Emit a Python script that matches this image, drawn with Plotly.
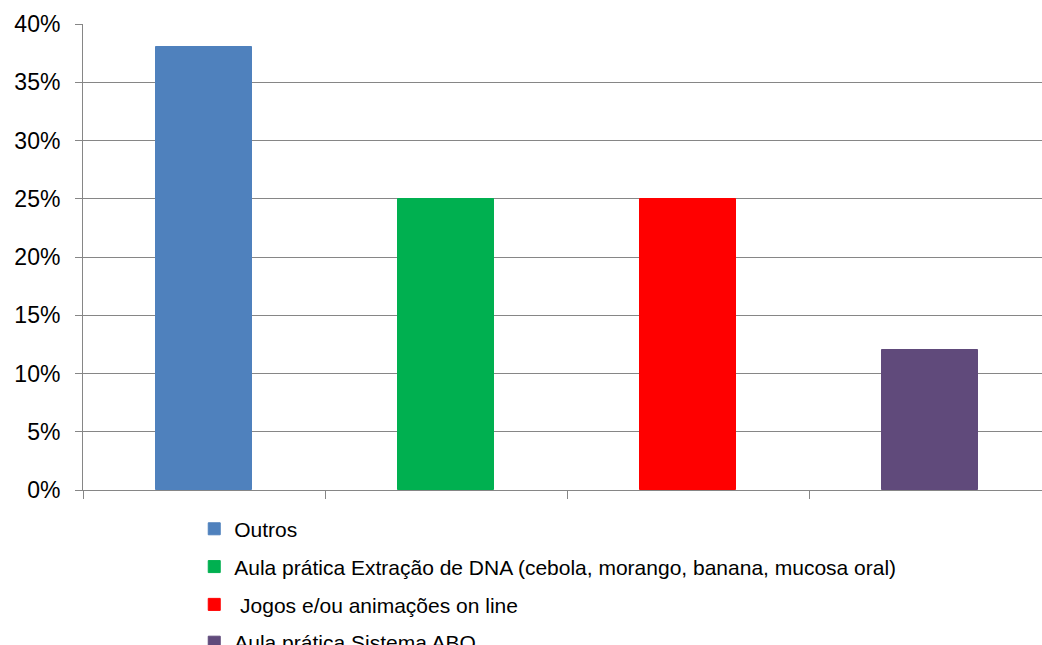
import plotly.graph_objects as go

categories = ["Outros",
              "Aula prática Extração de DNA (cebola, morango, banana, mucosa oral)",
              " Jogos e/ou animações on line",
              "Aula prática Sistema ABO"]
values = [38, 25, 25, 12]
colors = ["#4F81BD", "#00B050", "#FF0000", "#604A7B"]
y_ticks = [0, 5, 10, 15, 20, 25, 30, 35, 40]
y_tick_labels = ["0%", "5%", "10%", "15%", "20%", "25%", "30%", "35%", "40%"]

fig = go.Figure()
for i, (name, v, c) in enumerate(zip(categories, values, colors)):
    fig.add_trace(go.Bar(
        x=[i], y=[v], name=name, width=0.4,
        marker=dict(color=c, line=dict(color=c, width=1)),
        legendgroup=f"g{i}",
    ))

fig.update_layout(
    width=1042, height=645,
    margin=dict(l=83, r=0, t=24, b=155, autoexpand=False),
    paper_bgcolor="white", plot_bgcolor="white",
    font=dict(family="Liberation Sans, Arial, sans-serif", color="#000000"),
    showlegend=True,
    legend=dict(
        x=0.116, xanchor="left", y=-0.04, yanchor="top",
        font=dict(size=21), tracegroupgap=7.5,
        bgcolor="rgba(0,0,0,0)",
    ),
    bargap=0,
)
fig.update_xaxes(
    range=[-0.5, -0.5 + 959 / 242], tickvals=[-0.5, 0.5, 1.5, 2.5, 3.5],
    ticktext=["", "", "", "", ""], ticks="outside", ticklen=8,
    tickcolor="#868686", showline=True, linecolor="#868686", linewidth=1,
    showgrid=False, zeroline=False, fixedrange=True,
)
fig.update_yaxes(
    range=[0, 40], tickvals=y_ticks, ticktext=y_tick_labels,
    ticks="outside", ticklen=7, tickcolor="#868686",
    showline=True, linecolor="#868686", linewidth=1,
    showgrid=True, gridcolor="#868686", gridwidth=1, zeroline=False,
    tickfont=dict(size=23), ticklabelstandoff=10, automargin=False,
)
fig.write_html("out.html",
               config={"displayModeBar": False},
               post_script="document.body.style.margin='0';document.body.style.overflow='hidden';")
